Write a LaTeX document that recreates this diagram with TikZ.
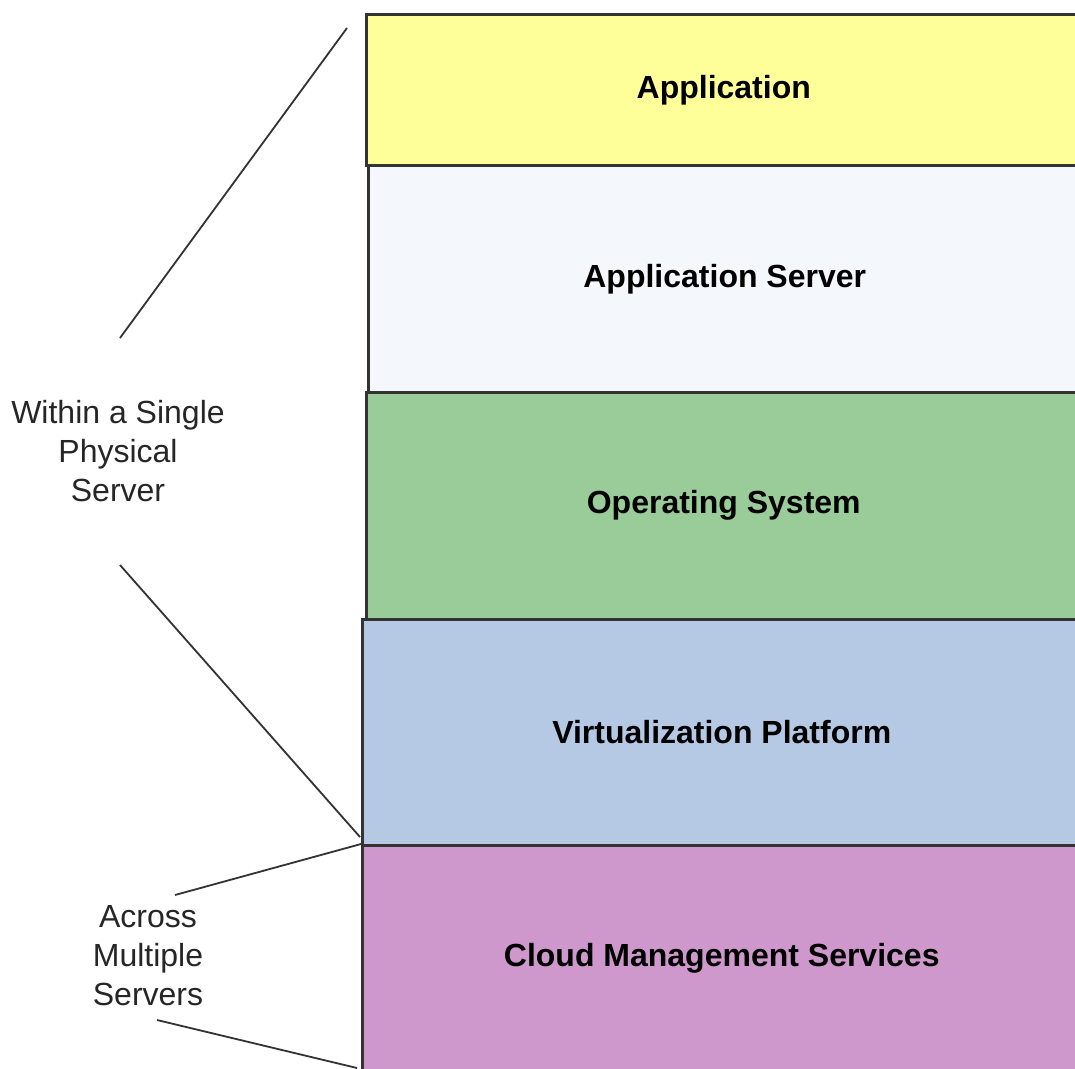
\documentclass[tikz,border=0pt]{standalone}
\usepackage{fontspec}
\setmainfont{Liberation Sans}
\definecolor{appyellow}{HTML}{FFFF99}
\definecolor{srvwhite}{HTML}{F4F7FC}
\definecolor{osgreen}{HTML}{99CC99}
\definecolor{virtblue}{HTML}{B5C9E5}
\definecolor{cloudpurple}{HTML}{CE98CD}
\tikzset{
	layer/.style={rectangle,draw=black!80,line width=2.5pt,anchor=north west,inner sep=0pt,font=\fontsize{32}{38}\selectfont\bfseries},
	scope label/.style={align=center,font=\fontsize{32}{39}\selectfont,text=black!85},
	guide/.style={draw=black!80,line width=1.8pt}
}
\begin{document}
\begin{tikzpicture}[x=1pt,y=-1pt]
		\clip (0,0) rectangle (1075,1068);
		\fill[white] (0,0) rectangle (1075,1068);
		% stack of layers
		\node[layer,fill=appyellow,minimum width=715,minimum height=151] (app) at (365,13) {Application};
		\node[layer,fill=srvwhite,minimum width=713,minimum height=227] (appsrv) at (367,164) {Application Server};
		\node[layer,fill=osgreen,minimum width=715,minimum height=227] (os) at (365,391) {Operating System};
		\node[layer,fill=virtblue,minimum width=719,minimum height=226] (virt) at (361,618) {Virtualization Platform};
		\node[layer,fill=cloudpurple,minimum width=719,minimum height=226] (cloud) at (361,844) {Cloud Management Services};
		% scope labels
		\node[scope label] (single) at (118,451) {Within a Single\\Physical\\Server};
		\node[scope label] (across) at (148,956) {Across\\Multiple\\Servers};
		\coordinate (S1) at (347,28);
		\coordinate (S2) at (120,338);
		\coordinate (S3) at (120,565);
		\coordinate (S4) at (360,837);
		\coordinate (A1) at (175,895);
		\coordinate (A2) at (157,1020);
		\coordinate (A3) at (357,1068);
		\draw[guide] (S1) to (S2);
		\draw[guide] (S3) to (S4);
		\draw[guide] (A1) to (cloud.north west);
		\draw[guide] (A2) to (A3);
	\end{tikzpicture}
\end{document}
